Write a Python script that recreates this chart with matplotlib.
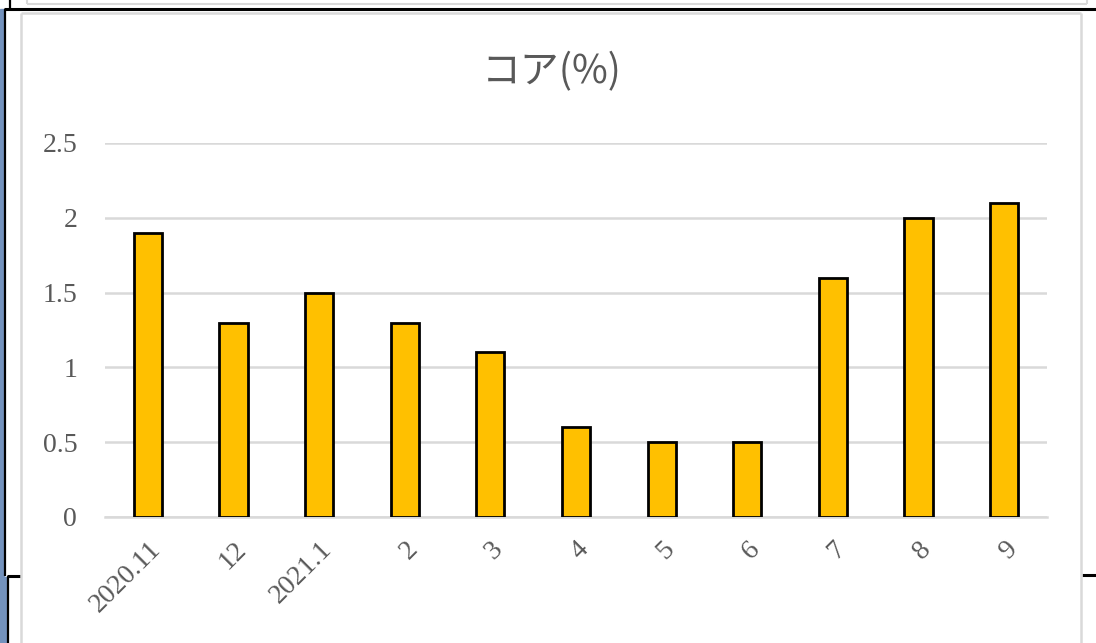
import matplotlib
matplotlib.use("Agg")
import matplotlib.pyplot as plt
from matplotlib.lines import Line2D
from matplotlib.patches import Rectangle

# ----- Data -----
months = ['2020.11', '12', '2021.1', '2', '3', '4', '5', '6', '7', '8', '9']
core = [1.9, 1.3, 1.5, 1.3, 1.1, 0.6, 0.5, 0.5, 1.6, 2.0, 2.1]
yticks = [0, 0.5, 1, 1.5, 2, 2.5]
ytick_labels = ['0', '0.5', '1', '1.5', '2', '2.5']
title = 'コア(%)'

W, H = 1096, 643
fig = plt.figure(figsize=(W/100, H/100), dpi=100)

def fx(x):
    return x / W

def fy(y):
    return 1 - y / H

# ----- Screenshot frame decorations -----
def hline(x0, x1, y, color, lw):
    fig.add_artist(Line2D([fx(x0), fx(x1)], [fy(y), fy(y)], color=color, lw=lw,
                          transform=fig.transFigure, solid_capstyle='butt'))

def vline(x, y0, y1, color, lw):
    fig.add_artist(Line2D([fx(x), fx(x)], [fy(y0), fy(y1)], color=color, lw=lw,
                          transform=fig.transFigure, solid_capstyle='butt'))

blue = '#7392bd'
fig.add_artist(Rectangle((0, 0), fx(4), fy(9), color=blue, transform=fig.transFigure, zorder=0))
fig.add_artist(Rectangle((0, 0), fx(7), fy(577), color=blue, transform=fig.transFigure, zorder=0))
vline(5, 9, 576, 'black', 1.6)
vline(9.5, 0, 9, 'black', 1.6)
hline(4, W, 9, 'black', 2.2)
hline(7, 21, 576, 'black', 2.2)
vline(7.5, 576, H, 'black', 1.6)
hline(1082, W, 575, 'black', 2.2)
# upper box
hline(27, 1087, 4, '#d9d9d9', 1.5)
vline(27, 0, 4, '#d9d9d9', 1.5)
vline(1087, 0, 4, '#d9d9d9', 1.5)
# chart border
hline(21, 1081, 13, '#d9d9d9', 1.8)
vline(21, 13, H, '#d9d9d9', 1.8)
vline(1081, 13, H, '#d9d9d9', 1.8)

# ----- Chart -----
ax = fig.add_axes([fx(105), fy(517), fx(1047) - fx(105), fy(143) - fy(517)])
x = range(len(months))
ax.bar(x, core, width=0.33, color='#FFC000', edgecolor='black', linewidth=2, zorder=3)

ax.set_xlim(-0.5, len(months) - 0.5)
ax.set_ylim(0, 2.5)
ax.set_yticks(yticks)
ax.set_yticklabels(ytick_labels, family='Liberation Serif', fontsize=20, color='#595959')
ax.set_xticks(list(x))
ax.set_xticklabels(months, family='Liberation Serif', fontsize=20, color='#595959',
                   rotation=45, ha='right', rotation_mode='anchor')
ax.tick_params(axis='both', length=0)
ax.tick_params(axis='y', pad=20)
ax.tick_params(axis='x', pad=14)

ax.grid(axis='y', color='#d9d9d9', linewidth=1.8, zorder=0)
ax.set_axisbelow(True)
for s in ['top', 'right', 'left']:
    ax.spines[s].set_visible(False)
ax.spines['bottom'].set_color('#d9d9d9')
ax.spines['bottom'].set_linewidth(1.8)

fig.text(fx(552), fy(72), title, family=['Noto Sans CJK JP', 'DejaVu Sans'],
         fontsize=28, color='#595959', ha='center', va='center')

plt.savefig('out.png', dpi=100)
